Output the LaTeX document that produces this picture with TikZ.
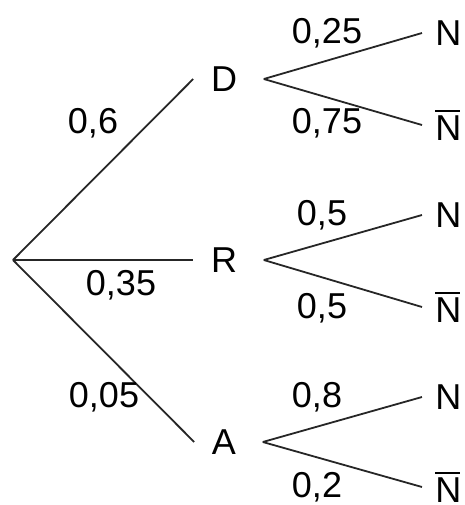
\documentclass[tikz,border=0pt]{standalone}
\usepackage{fontspec}
\setmainfont{Liberation Sans}
\newcommand{\Nbar}{\makebox[0pt][l]{\rule[14.3pt]{12.5pt}{1pt}}N}
\begin{document}
\begin{tikzpicture}[x=0.5pt,y=-0.5pt,
        every node/.style={font=\fontsize{18}{20}\selectfont},
        branch/.style={draw=black!85, line width=0.9pt},
        event/.style={inner xsep=8.7pt, inner ysep=0pt},
        leaf/.style={anchor=west, inner xsep=6.5pt, inner ysep=0pt},
        proba/.style={anchor=base, inner sep=0pt}]
        \useasboundingbox (0,0) rectangle (465,505);
        %% racine et premier niveau
        \coordinate (root) at (13,260);
        \node[event] (D) at (224,79) {D};
        \node[event] (R) at (224,260) {R};
        \node[event] (A) at (224,442) {A};
        \draw[branch] (root) -- (D.west);
        \draw[branch] (root) -- (R.west);
        \draw[branch] (root) -- (A.west);
        
        %% second niveau
        \foreach \p/\q/\y/\t in
        {D/DN/33/N,
            D/DNb/125/\Nbar,
            R/RN/215/N,
            R/RNb/307/\Nbar,
            A/AN/397/N,
            A/ANb/487/\Nbar
        }
        {
            \node[leaf] (\q) at (422,\y) {\t};
            \draw[branch] ([xshift=4.5pt]\p.east) -- (\q.west);
        };
        
        %% probabilites
        \foreach \n/\x/\y/\t in
        {pD/93/133/{0,6},
            pR/121/295/{0,35},
            pA/104/407/{0,05},
            pDN/327/43/{0,25},
            pDNb/327/133/{0,75},
            pRN/322/225/{0,5},
            pRNb/322/318/{0,5},
            pAN/317/407/{0,8},
            pANb/317/497/{0,2}
        }
        {
            \node[proba] (\n) at (\x,\y) {\t};
        };
\end{tikzpicture}
\end{document}
